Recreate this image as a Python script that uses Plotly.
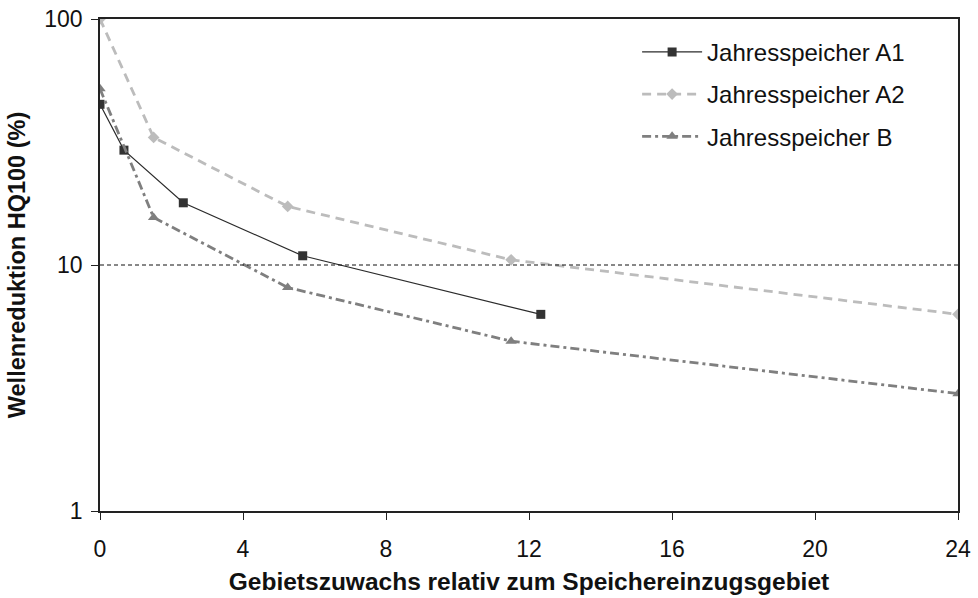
import plotly.graph_objects as go

# Gebietszuwachs (x) and Wellenreduktion HQ100 in % (y) per storage variant
x_a1 = [0, 0.67, 2.33, 5.67, 12.33]
y_a1 = [45, 29.3, 17.9, 10.9, 6.3]

x_a2 = [0, 1.5, 5.25, 11.5, 24]
y_a2 = [100, 33, 17.3, 10.5, 6.3]

x_b = [0, 1.5, 5.25, 11.5, 24]
y_b = [52, 15.6, 8.1, 4.9, 3.0]

ref_level = 10
x_ticks = [0, 4, 8, 12, 16, 20, 24]
y_ticks = [1, 10, 100]

FONT = "Liberation Sans, Arial, sans-serif"

fig = go.Figure()

fig.add_trace(go.Scatter(
    x=x_a1, y=y_a1, mode="lines+markers", name="Jahresspeicher A1",
    legendgroup="a1",
    line=dict(color="#2b2b2b", width=1.2),
    marker=dict(symbol="square", size=9, color="#333333"),
))
fig.add_trace(go.Scatter(
    x=x_a2, y=y_a2, mode="lines+markers", name="Jahresspeicher A2",
    legendgroup="a2",
    line=dict(color="#bcbcbc", width=2.8, dash="9px,6px"),
    marker=dict(symbol="diamond", size=9, color="#bcbcbc"),
))
fig.add_trace(go.Scatter(
    x=x_b, y=y_b, mode="lines+markers", name="Jahresspeicher B",
    legendgroup="b",
    line=dict(color="#7f7f7f", width=2.8, dash="9px,4px,3px,4px"),
    marker=dict(symbol="triangle-up", size=10, color="#7f7f7f"),
))

# 10 % reference line
fig.add_shape(type="line", xref="paper", x0=0, x1=1, yref="y",
              y0=ref_level, y1=ref_level,
              line=dict(color="#111111", width=1, dash="4px,3px"))

fig.update_layout(
    width=978, height=598,
    margin=dict(l=100, r=20, t=19, b=87),
    paper_bgcolor="white", plot_bgcolor="white",
    font=dict(family=FONT, size=23, color="#111111"),
    showlegend=True,
    legend=dict(
        x=0.626, y=0.978, xanchor="left", yanchor="top",
        font=dict(family=FONT, size=24, color="#111111"),
        bgcolor="rgba(0,0,0,0)",
        traceorder="grouped", tracegroupgap=8,
        itemwidth=60,
    ),
)

fig.update_xaxes(
    range=[0, 24], tickvals=x_ticks, ticktext=[str(v) for v in x_ticks],
    showgrid=False, zeroline=False, automargin=False,
    showline=True, linecolor="#222222", linewidth=1.5, mirror=True,
    ticks="outside", ticklen=7, tickcolor="#222222", tickwidth=1,
    ticklabelstandoff=10,
    tickfont=dict(family=FONT, size=23),
    title=dict(text="<b>Gebietszuwachs relativ zum Speichereinzugsgebiet</b>",
               font=dict(family=FONT, size=24.5), standoff=12),
)
fig.update_yaxes(
    type="log", range=[0, 2], tickvals=y_ticks,
    ticktext=[str(v) for v in y_ticks],
    showgrid=False, zeroline=False, automargin=False,
    showline=True, linecolor="#222222", linewidth=1.5, mirror=True,
    ticks="outside", ticklen=7, tickcolor="#222222", tickwidth=1,
    ticklabelstandoff=4,
    tickfont=dict(family=FONT, size=23),
    title=dict(text="<b>Wellenreduktion HQ100 (%)</b>",
               font=dict(family=FONT, size=23.5), standoff=12),
)

fig.write_html("out.html")
